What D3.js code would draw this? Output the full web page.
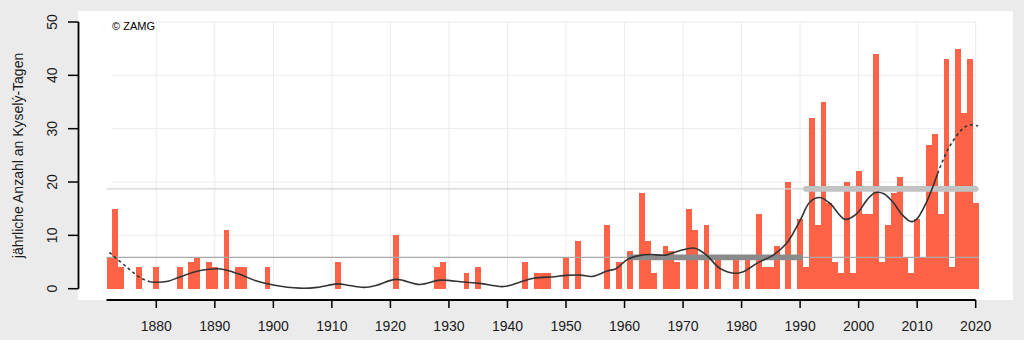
<!DOCTYPE html>
<html>
<head>
<meta charset="utf-8">
<script src="https://cdn.jsdelivr.net/npm/d3@7"></script>
<style>
  html, body { margin: 0; padding: 0; background: #ebebeb; }
  svg { display: block; font-family: "Liberation Sans", Arial, sans-serif; }
</style>
</head>
<body>
<svg id="chart" width="1024" height="340"></svg>
<script>
// jährliche Anzahl an Kyselý-Tagen, ab 1872
const startYear = 1872;
const kyselyDays = [
  6, 15, 4, 0, 0, 4, 0, 0,            // 1872-1879
  4, 0, 0, 0, 4, 0, 5, 6, 0, 5,       // 1880
  4, 0, 11, 0, 4, 4, 0, 0, 0, 4,      // 1890
  0, 0, 0, 0, 0, 0, 0, 0, 0, 0,       // 1900
  0, 5, 0, 0, 0, 0, 0, 0, 0, 0,       // 1910
  0, 10, 0, 0, 0, 0, 0, 0, 4, 5,      // 1920
  0, 0, 0, 3, 0, 4, 0, 0, 0, 0,       // 1930
  0, 0, 0, 5, 0, 3, 3, 3, 0, 0,       // 1940
  6, 0, 9, 0, 0, 0, 0, 12, 0, 5,      // 1950
  0, 7, 0, 18, 9, 3, 0, 8, 7, 5,      // 1960
  0, 15, 11, 0, 12, 0, 6, 0, 0, 6,    // 1970
  0, 6, 0, 14, 4, 4, 8, 0, 20, 0,     // 1980
  13, 4, 32, 12, 35, 16, 5, 3, 20, 3, // 1990
  22, 14, 14, 44, 5, 12, 18, 21, 6, 3,// 2000
  13, 6, 27, 29, 14, 43, 4, 45, 33, 43,// 2010
  16                                  // 2020
];

// geglättete Kurve
const smoothYears = [1872, 1875, 1877.5, 1879, 1880, 1882, 1884, 1887.5, 1891, 1894,
  1897, 1900, 1904.5, 1907.5, 1911, 1913, 1915.5, 1917.5, 1921, 1925,
  1928.5, 1932.5, 1935.3, 1939.3, 1942.2, 1944.5, 1948, 1950, 1952.5, 1954.5,
  1957, 1958.6, 1960.5, 1962.5, 1964.5, 1967, 1969.4, 1972, 1974, 1976.3,
  1978.8, 1980.3, 1982.6, 1985.4, 1987.7, 1990, 1991.7, 1993.4, 1995.1, 1997.7,
  1999.7, 2001.4, 2002.8, 2004.3, 2005.8, 2007.5, 2008.9, 2009.8, 2011.5, 2013.5,
  2015.5, 2017.8, 2019, 2020.4];
const smoothValues = [6.8, 4.0, 1.9, 1.3, 1.2, 1.4, 2.2, 3.4, 3.7, 2.8,
  1.5, 0.7, 0.1, 0.25, 0.9, 0.6, 0.25, 0.6, 1.75, 0.8,
  1.6, 1.25, 1.0, 0.4, 1.25, 1.95, 2.25, 2.5, 2.55, 2.3,
  3.3, 3.8, 5.5, 6.2, 6.4, 6.3, 7.1, 7.6, 6.3, 3.8,
  2.9, 3.2, 4.75, 6.3, 8.5, 12.8, 16.3, 17.1, 16, 13,
  14.1, 16.6, 18, 17.8, 16.3, 13.8, 12.6, 12.9, 16, 21.6,
  26.6, 30, 30.7, 30.5];
const solidFrom = 1879, solidTo = 2013.5;

// Klimanormalperioden
const periodStart = [1961, 1991];
const periodEnd = [1990, 2020];

const yTicks = [0, 10, 20, 30, 40, 50];
const xTicks = [1880, 1890, 1900, 1910, 1920, 1930, 1940, 1950, 1960, 1970, 1980, 1990, 2000, 2010, 2020];

const data = kyselyDays.map((v, i) => ({ year: startYear + i, value: v }));
const smooth = smoothYears.map((y, i) => ({ year: y, value: smoothValues[i] }));

const svg = d3.select("#chart");
const x = d3.scaleLinear().domain([1880, 2020]).range([156.3, 975.7]);
const y = d3.scaleLinear().domain([0, 50]).range([288.7, 22]);

// Panel
svg.append("rect").attr("x", 78).attr("y", 11).attr("width", 935).attr("height", 289).attr("fill", "#fff");

// Gitter
svg.append("g").selectAll("line").data(xTicks).enter().append("line")
  .attr("x1", d => x(d)).attr("x2", d => x(d))
  .attr("y1", y(50)).attr("y2", y(0))
  .attr("stroke", "#ebebeb").attr("stroke-width", 1);
svg.append("g").selectAll("line").data(yTicks.slice(1)).enter().append("line")
  .attr("x1", x(1872.4)).attr("x2", x(2020))
  .attr("y1", d => y(d)).attr("y2", d => y(d))
  .attr("stroke", "#ebebeb").attr("stroke-width", 1);

// Balken
svg.append("g").selectAll("rect").data(data.filter(d => d.value > 0)).enter().append("rect")
  .attr("x", d => x(d.year - 0.5))
  .attr("width", d => x(d.year + 0.5) - x(d.year - 0.5))
  .attr("y", d => y(d.value))
  .attr("height", d => y(0) - y(d.value))
  .attr("fill", "#ff6347")
  .attr("shape-rendering", "crispEdges");

// Mittelwerte der Perioden
const means = periodStart.map((s, i) =>
  d3.mean(data.filter(d => d.year >= s && d.year <= periodEnd[i]), d => d.value));
const thinColor = ["#a8a8a8", "#d2d2d2"];
const thickColor = ["#8a8a8a", "#c2c2c2"];

svg.append("g").selectAll("line").data(means).enter().append("line")
  .attr("x1", x(startYear - 0.5)).attr("x2", x(2020.5))
  .attr("y1", d => y(d)).attr("y2", d => y(d))
  .attr("stroke", (d, i) => thinColor[i]).attr("stroke-width", 1.3);

svg.append("g").selectAll("line").data(means).enter().append("line")
  .attr("x1", (d, i) => x(periodStart[i])).attr("x2", (d, i) => x(periodEnd[i]))
  .attr("y1", d => y(d)).attr("y2", d => y(d))
  .attr("stroke", (d, i) => thickColor[i]).attr("stroke-width", 5.8)
  .attr("stroke-linecap", "round");

// Glättung
const line = d3.line().x(d => x(d.year)).y(d => y(d.value)).curve(d3.curveCatmullRom);
const head = smooth.filter(d => d.year <= solidFrom);
const mid = smooth.filter(d => d.year >= solidFrom && d.year <= solidTo);
const tail = smooth.filter(d => d.year >= solidTo);
svg.append("path").attr("d", line(mid)).attr("fill", "none")
  .attr("stroke", "#333").attr("stroke-width", 1.6);
[head, tail].forEach(seg => {
  svg.append("path").attr("d", line(seg)).attr("fill", "none")
    .attr("stroke", "#333").attr("stroke-width", 1.6).attr("stroke-dasharray", "3,3");
});

// Achsen
svg.append("line").attr("x1", x(startYear - 0.5)).attr("x2", x(2020))
  .attr("y1", 300).attr("y2", 300).attr("stroke", "#000").attr("stroke-width", 1.8);
const xg = svg.append("g");
xg.selectAll("line").data(xTicks).enter().append("line")
  .attr("x1", d => x(d)).attr("x2", d => x(d)).attr("y1", 300).attr("y2", 308)
  .attr("stroke", "#000").attr("stroke-width", 1.5);
xg.selectAll("text").data(xTicks).enter().append("text")
  .attr("x", d => x(d)).attr("y", 331)
  .attr("text-anchor", "middle").attr("font-size", 14).attr("fill", "#1a1a1a")
  .text(d => d);

svg.append("line").attr("x1", 78.5).attr("x2", 78.5)
  .attr("y1", y(0)).attr("y2", y(50)).attr("stroke", "#000").attr("stroke-width", 1.8);
const yg = svg.append("g");
yg.selectAll("line").data(yTicks).enter().append("line")
  .attr("x1", 68).attr("x2", 78.5).attr("y1", d => y(d)).attr("y2", d => y(d))
  .attr("stroke", "#000").attr("stroke-width", 1.5);
yg.selectAll("text").data(yTicks).enter().append("text")
  .attr("transform", d => `translate(56.5,${y(d)}) rotate(-90)`)
  .attr("text-anchor", "middle").attr("font-size", 14).attr("fill", "#1a1a1a")
  .text(d => d);

svg.append("text")
  .attr("transform", `translate(22.5,155.5) rotate(-90)`)
  .attr("text-anchor", "middle").attr("font-size", 14).attr("fill", "#1a1a1a")
  .text("jährliche Anzahl an Kyselý-Tagen");

svg.append("text").attr("x", 112).attr("y", 30)
  .attr("font-size", 11).attr("fill", "#000").text("© ZAMG");
</script>
</body>
</html>
